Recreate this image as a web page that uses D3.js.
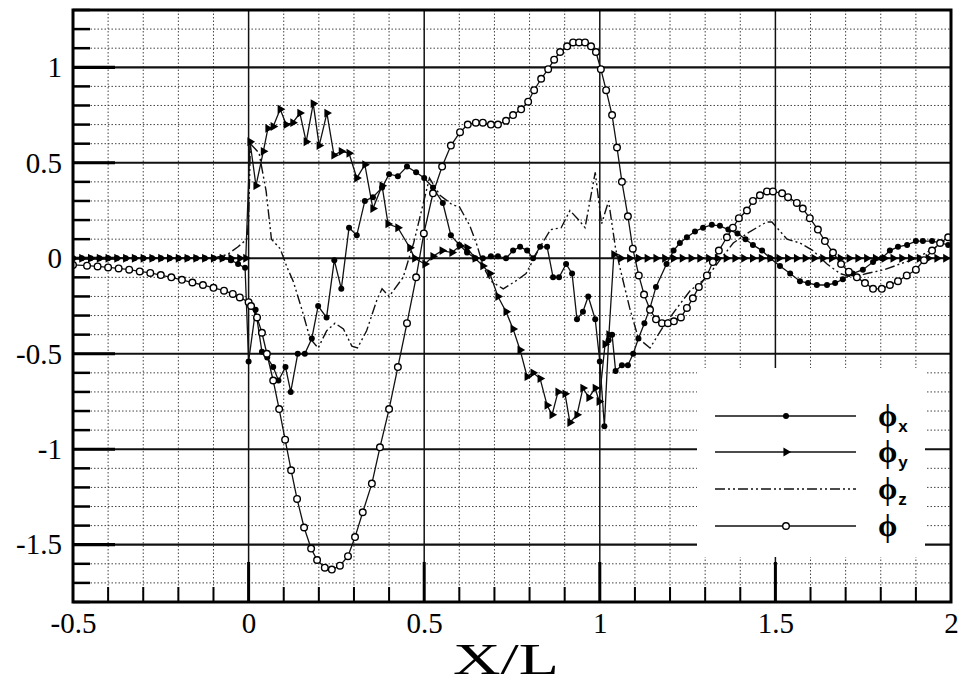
<!DOCTYPE html>
<html lang="en">
<head>
<meta charset="UTF-8">
<title>phi components along X/L</title>
<script src="https://d3js.org/d3.v7.min.js"></script>
<style>
  body{ margin:0; background:#fff; }
  svg{ display:block; }
</style>
</head>
<body>
<svg width="958" height="685"></svg>
<script>
// ---- data: [X/L, value] ----
const phiX = [[-0.5,0],[-0.475,0],[-0.45,0],[-0.425,0],[-0.4,0],[-0.375,0],[-0.35,0],[-0.325,0],[-0.3,0],[-0.275,0],
  [-0.25,0],[-0.225,0],[-0.2,0],[-0.175,0],[-0.15,0],[-0.125,0],[-0.1,0],[-0.075,0],[-0.05,-0.01],[-0.03,-0.03],[-0.01,-0.05],
  [0.0,-0.54],[0.02,-0.27],[0.038,-0.49],[0.053,-0.52],[0.07,-0.57],[0.085,-0.64],[0.105,-0.57],[0.12,-0.70],[0.14,-0.50],
  [0.16,-0.50],[0.18,-0.42],[0.198,-0.25],[0.222,-0.31],[0.244,-0.01],[0.264,-0.16],[0.286,0.16],[0.308,0.12],[0.331,0.30],
  [0.354,0.32],[0.38,0.37],[0.40,0.44],[0.425,0.43],[0.451,0.48],[0.477,0.45],[0.50,0.42],[0.525,0.37],[0.553,0.29],
  [0.576,0.12],[0.60,0.07],[0.622,0.03],[0.645,0.0],[0.667,0.0],[0.69,0.01],[0.71,0.01],[0.733,0.0],[0.753,0.04],
  [0.773,0.06],[0.793,0.04],[0.81,0.0],[0.83,0.06],[0.85,0.06],[0.867,-0.1],[0.884,-0.1],[0.904,-0.03],[0.921,-0.08],
  [0.935,-0.32],[0.952,-0.28],[0.967,-0.2],[0.987,-0.32],[1.0,-0.54],[1.013,-0.88],[1.025,-0.43],[1.035,-0.40],[1.045,-0.59],
  [1.063,-0.56],[1.08,-0.56],[1.095,-0.50],[1.11,-0.42],[1.127,-0.34],[1.143,-0.26],[1.16,-0.15],[1.19,-0.03],[1.21,0.04],
  [1.228,0.08],[1.248,0.11],[1.271,0.14],[1.294,0.16],[1.319,0.175],[1.342,0.17],[1.366,0.15],[1.392,0.13],[1.415,0.10],
  [1.436,0.07],[1.462,0.04],[1.485,0.0],[1.513,-0.04],[1.542,-0.08],[1.57,-0.12],[1.593,-0.13],[1.618,-0.14],[1.647,-0.14],
  [1.67,-0.13],[1.692,-0.11],[1.72,-0.08],[1.749,-0.06],[1.778,-0.02],[1.803,0.0],[1.826,0.04],[1.849,0.06],[1.875,0.07],
  [1.9,0.09],[1.92,0.09],[1.946,0.09],[1.969,0.08],[1.992,0.07]];

const phiY = [[-0.5,0],[-0.475,0],[-0.45,0],[-0.425,0],[-0.4,0],[-0.375,0],[-0.35,0],[-0.325,0],[-0.3,0],[-0.275,0],
  [-0.25,0],[-0.225,0],[-0.2,0],[-0.175,0],[-0.15,0],[-0.125,0],[-0.1,0],[-0.075,0],[-0.05,0],[-0.025,0],[-0.008,0],
  [0.004,0.61],[0.021,0.38],[0.042,0.56],[0.055,0.68],[0.07,0.69],[0.09,0.78],[0.107,0.70],[0.126,0.71],[0.146,0.76],
  [0.164,0.61],[0.184,0.81],[0.201,0.59],[0.223,0.76],[0.243,0.54],[0.264,0.56],[0.286,0.55],[0.308,0.42],[0.331,0.49],
  [0.354,0.26],[0.38,0.38],[0.397,0.18],[0.425,0.16],[0.459,0.055],[0.473,0.0],[0.502,-0.03],[0.525,0.01],[0.551,0.04],
  [0.579,0.03],[0.602,0.065],[0.622,0.055],[0.645,0.0],[0.667,-0.04],[0.687,-0.08],[0.71,-0.2],[0.733,-0.28],[0.753,-0.37],
  [0.773,-0.48],[0.793,-0.62],[0.81,-0.60],[0.83,-0.63],[0.85,-0.77],[0.864,-0.82],[0.881,-0.70],[0.901,-0.71],[0.915,-0.86],
  [0.935,-0.82],[0.952,-0.68],[0.969,-0.73],[0.987,-0.68],[0.998,-0.75],[1.015,-0.45],[1.026,-0.40],[1.04,0.02],
  [1.06,0],[1.085,0],[1.11,0],[1.135,0],[1.16,0],[1.185,0],[1.21,0],[1.235,0],[1.26,0],[1.285,0],[1.31,0],[1.335,0],
  [1.36,0],[1.385,0],[1.41,0],[1.435,0],[1.46,0],[1.485,0],[1.51,0],[1.535,0],[1.56,0],[1.585,0],[1.61,0],[1.635,0],
  [1.66,0],[1.685,0],[1.71,0],[1.735,0],[1.76,0],[1.785,0],[1.81,0],[1.835,0],[1.86,0],[1.885,0],[1.91,0],[1.935,0],
  [1.96,0],[1.985,0]];

const phiZ = [[-0.5,0],[-0.1,0],[-0.06,0.02],[-0.03,0.06],[-0.005,0.1],[0.0,0.2],[0.005,0.6],[0.03,0.55],[0.05,0.35],
  [0.065,0.1],[0.09,0.05],[0.11,-0.05],[0.127,-0.12],[0.152,-0.27],[0.175,-0.42],[0.198,-0.47],[0.222,-0.38],[0.246,-0.34],
  [0.27,-0.37],[0.294,-0.46],[0.31,-0.47],[0.336,-0.38],[0.365,-0.22],[0.38,-0.16],[0.40,-0.2],[0.44,-0.1],[0.47,0.08],
  [0.495,0.27],[0.515,0.42],[0.545,0.33],[0.58,0.28],[0.60,0.27],[0.63,0.17],[0.65,0.07],[0.67,-0.05],[0.69,-0.12],
  [0.725,-0.16],[0.76,-0.12],[0.79,-0.08],[0.83,0.06],[0.86,0.15],[0.89,0.16],[0.915,0.25],[0.94,0.20],[0.958,0.16],
  [0.987,0.45],[1.005,0.18],[1.025,0.30],[1.045,0.05],[1.06,-0.07],[1.085,-0.26],[1.11,-0.42],[1.143,-0.47],[1.18,-0.36],
  [1.22,-0.26],[1.257,-0.17],[1.305,-0.1],[1.342,-0.01],[1.38,0.08],[1.428,0.14],[1.475,0.19],[1.49,0.19],[1.533,0.10],
  [1.57,0.08],[1.607,0.04],[1.647,-0.03],[1.684,-0.08],[1.72,-0.10],[1.76,-0.08],[1.81,-0.06],[1.855,-0.03],[1.9,0.0],
  [1.95,0.05],[2.0,0.11]];

const phi = [[-0.5,-0.035],[-0.46,-0.039],[-0.43,-0.043],[-0.40,-0.048],[-0.37,-0.053],[-0.34,-0.06],[-0.31,-0.069],
  [-0.28,-0.077],[-0.25,-0.088],[-0.22,-0.10],[-0.19,-0.113],[-0.16,-0.127],[-0.13,-0.14],[-0.10,-0.155],[-0.07,-0.17],
  [-0.045,-0.187],[-0.025,-0.205],[0.0,-0.23],[0.007,-0.25],[0.024,-0.31],[0.038,-0.39],[0.052,-0.50],[0.07,-0.64],
  [0.087,-0.79],[0.104,-0.95],[0.121,-1.11],[0.138,-1.26],[0.158,-1.41],[0.178,-1.52],[0.195,-1.58],[0.217,-1.62],
  [0.237,-1.63],[0.26,-1.61],[0.283,-1.56],[0.303,-1.46],[0.325,-1.33],[0.351,-1.18],[0.374,-0.99],[0.40,-0.79],
  [0.425,-0.57],[0.451,-0.34],[0.477,-0.10],[0.499,0.13],[0.525,0.34],[0.551,0.48],[0.576,0.59],[0.602,0.66],[0.624,0.70],
  [0.647,0.71],[0.667,0.71],[0.69,0.70],[0.71,0.70],[0.733,0.72],[0.753,0.75],[0.776,0.78],[0.796,0.82],[0.813,0.88],
  [0.833,0.94],[0.853,0.99],[0.87,1.04],[0.887,1.08],[0.907,1.11],[0.924,1.13],[0.941,1.13],[0.958,1.13],[0.975,1.11],
  [0.989,1.08],[1.003,0.99],[1.018,0.88],[1.035,0.75],[1.049,0.58],[1.063,0.40],[1.08,0.22],[1.094,0.05],[1.111,-0.09],
  [1.126,-0.19],[1.143,-0.27],[1.16,-0.32],[1.177,-0.34],[1.194,-0.34],[1.211,-0.33],[1.231,-0.31],[1.248,-0.26],
  [1.265,-0.21],[1.282,-0.15],[1.305,-0.09],[1.322,-0.02],[1.339,0.04],[1.362,0.11],[1.379,0.16],[1.396,0.21],[1.419,0.25],
  [1.436,0.30],[1.456,0.33],[1.476,0.35],[1.493,0.35],[1.519,0.34],[1.536,0.32],[1.561,0.29],[1.578,0.26],[1.598,0.21],
  [1.621,0.15],[1.641,0.09],[1.664,0.03],[1.687,-0.03],[1.709,-0.07],[1.732,-0.10],[1.755,-0.13],[1.778,-0.16],
  [1.803,-0.16],[1.826,-0.14],[1.849,-0.12],[1.874,-0.09],[1.9,-0.06],[1.923,-0.01],[1.946,0.04],[1.969,0.08],[1.992,0.11]];

const xLabels = [-0.5, 0, 0.5, 1, 1.5, 2];
const yLabels = [-1.5, -1, -0.5, 0, 0.5, 1];
const legendSubs = ["x", "y", "z", ""];

// ---- layout ----
const L = 73, R = 951, T = 10, B = 602;
const svg = d3.select("svg");
const x = d3.scaleLinear().domain([-0.5, 2]).range([L, R]);
const y = d3.scaleLinear().domain([-1.8, 1.3]).range([B, T]);
const serif = "'Liberation Serif','Times New Roman',serif";

const minorX = d3.ticks(-0.5, 2, 25).filter(v => Math.abs(v * 2 - Math.round(v * 2)) > 1e-6);
const minorY = d3.ticks(-1.8, 1.3, 31).filter(v => Math.abs(v * 2 - Math.round(v * 2)) > 1e-6);

// minor dotted grid
const grid = svg.append("g");
grid.selectAll(".gx").data(minorX).enter().append("line")
  .attr("x1", d => x(d)).attr("x2", d => x(d)).attr("y1", T).attr("y2", B)
  .attr("stroke", "#444").attr("stroke-width", 1).attr("stroke-dasharray", "1.5,2");
grid.selectAll(".gy").data(minorY).enter().append("line")
  .attr("x1", L).attr("x2", R).attr("y1", d => y(d)).attr("y2", d => y(d))
  .attr("stroke", "#444").attr("stroke-width", 1).attr("stroke-dasharray", "1.5,2");

// major solid grid
grid.selectAll(".Gx").data([0, 0.5, 1, 1.5]).enter().append("line")
  .attr("x1", d => x(d)).attr("x2", d => x(d)).attr("y1", T).attr("y2", B)
  .attr("stroke", "#111").attr("stroke-width", 1.5);
grid.selectAll(".Gy").data(yLabels).enter().append("line")
  .attr("x1", L).attr("x2", R).attr("y1", d => y(d)).attr("y2", d => y(d))
  .attr("stroke", "#111").attr("stroke-width", 2.2);

// inward ticks
const ticks = svg.append("g").attr("stroke", "#000");
ticks.selectAll(".ty").data(minorY).enter().append("line")
  .attr("x1", L).attr("x2", L + 17).attr("y1", d => y(d)).attr("y2", d => y(d)).attr("stroke-width", 2.5);
ticks.selectAll(".tY").data(yLabels).enter().append("line")
  .attr("x1", L).attr("x2", L + 42).attr("y1", d => y(d)).attr("y2", d => y(d)).attr("stroke-width", 3.2);
ticks.selectAll(".tx").data(minorX).enter().append("line")
  .attr("x1", d => x(d)).attr("x2", d => x(d)).attr("y1", B).attr("y2", B - 15).attr("stroke-width", 2);
ticks.selectAll(".tX").data([0, 0.5, 1, 1.5]).enter().append("line")
  .attr("x1", d => x(d)).attr("x2", d => x(d)).attr("y1", B).attr("y2", B - 40).attr("stroke-width", 3);

// tick labels via axes
const fmt = d => String(d);
const ax = svg.append("g").attr("transform", `translate(0,${B})`)
  .call(d3.axisBottom(x).tickValues(xLabels).tickFormat(fmt).tickSize(0).tickPadding(10));
const ay = svg.append("g").attr("transform", `translate(${L},0)`)
  .call(d3.axisLeft(y).tickValues(yLabels).tickFormat(fmt).tickSize(0).tickPadding(11));
[ax, ay].forEach(g => {
  g.select(".domain").remove();
  g.selectAll("text").attr("font-family", serif).attr("font-size", 29).attr("fill", "#000");
});

// axis title, stretched to the width it has in the figure
svg.append("text").attr("x", 506).attr("y", 674).attr("text-anchor", "middle")
  .attr("font-family", serif).attr("font-size", 44)
  .attr("textLength", 106).attr("lengthAdjust", "spacingAndGlyphs").text("X/L");

// ---- series ----
const plot = svg.append("g");
svg.append("clipPath").attr("id", "clip").append("rect")
  .attr("x", L).attr("y", T).attr("width", R - L).attr("height", B - T);
plot.attr("clip-path", "url(#clip)");
const line = d3.line().x(d => x(d[0])).y(d => y(d[1]));
const tri = d3.symbol().type(d3.symbolTriangle).size(34);

plot.append("path").datum(phiZ).attr("d", line).attr("fill", "none")
  .attr("stroke", "#111").attr("stroke-width", 1.4).attr("stroke-dasharray", "10 3 2 3 2 3");

plot.append("path").datum(phiY).attr("d", line).attr("fill", "none").attr("stroke", "#111").attr("stroke-width", 1.3);
plot.append("path").datum(phiX).attr("d", line).attr("fill", "none").attr("stroke", "#111").attr("stroke-width", 1.3);
plot.append("path").datum(phi).attr("d", line).attr("fill", "none").attr("stroke", "#111").attr("stroke-width", 1.3);

plot.selectAll(".my").data(phiY).enter().append("path")
  .attr("d", tri).attr("fill", "#000")
  .attr("transform", d => `translate(${x(d[0])},${y(d[1])}) rotate(90)`);
plot.selectAll(".mx").data(phiX).enter().append("circle")
  .attr("cx", d => x(d[0])).attr("cy", d => y(d[1])).attr("r", 3).attr("fill", "#000");
plot.selectAll(".mp").data(phi).enter().append("circle")
  .attr("cx", d => x(d[0])).attr("cy", d => y(d[1])).attr("r", 3.3)
  .attr("fill", "#fff").attr("stroke", "#000").attr("stroke-width", 1.4);

// frame
svg.append("rect").attr("x", L).attr("y", T).attr("width", R - L).attr("height", B - T)
  .attr("fill", "none").attr("stroke", "#000").attr("stroke-width", 3);

// ---- legend ----
const lg = svg.append("g");
lg.append("rect").attr("x", 697).attr("y", 368).attr("width", 228).attr("height", 189).attr("fill", "#fff");
const rows = [416, 452, 489, 526];
rows.forEach((ry, i) => {
  const ln = lg.append("line").attr("x1", 715).attr("x2", 856).attr("y1", ry).attr("y2", ry)
    .attr("stroke", "#111").attr("stroke-width", 1.4);
  if (i === 2) ln.attr("stroke-dasharray", "10 3 2 3 2 3");
  if (i === 0) lg.append("circle").attr("cx", 786).attr("cy", ry).attr("r", 3).attr("fill", "#000");
  if (i === 1) lg.append("path").attr("d", tri).attr("fill", "#000").attr("transform", `translate(786,${ry}) rotate(90)`);
  if (i === 3) lg.append("circle").attr("cx", 786).attr("cy", ry).attr("r", 3.3)
    .attr("fill", "#fff").attr("stroke", "#000").attr("stroke-width", 1.4);
  const t = lg.append("text").attr("x", 878).attr("y", ry + 10).attr("font-family", serif)
    .attr("font-weight", "bold").attr("font-size", 31).text("\u03D5");
  t.append("tspan").attr("dx", 1).attr("dy", 6).attr("font-family", "'Liberation Sans',Arial,sans-serif")
    .attr("font-weight", "bold").attr("font-size", 17).text(legendSubs[i]);
});
</script>
</body>
</html>
